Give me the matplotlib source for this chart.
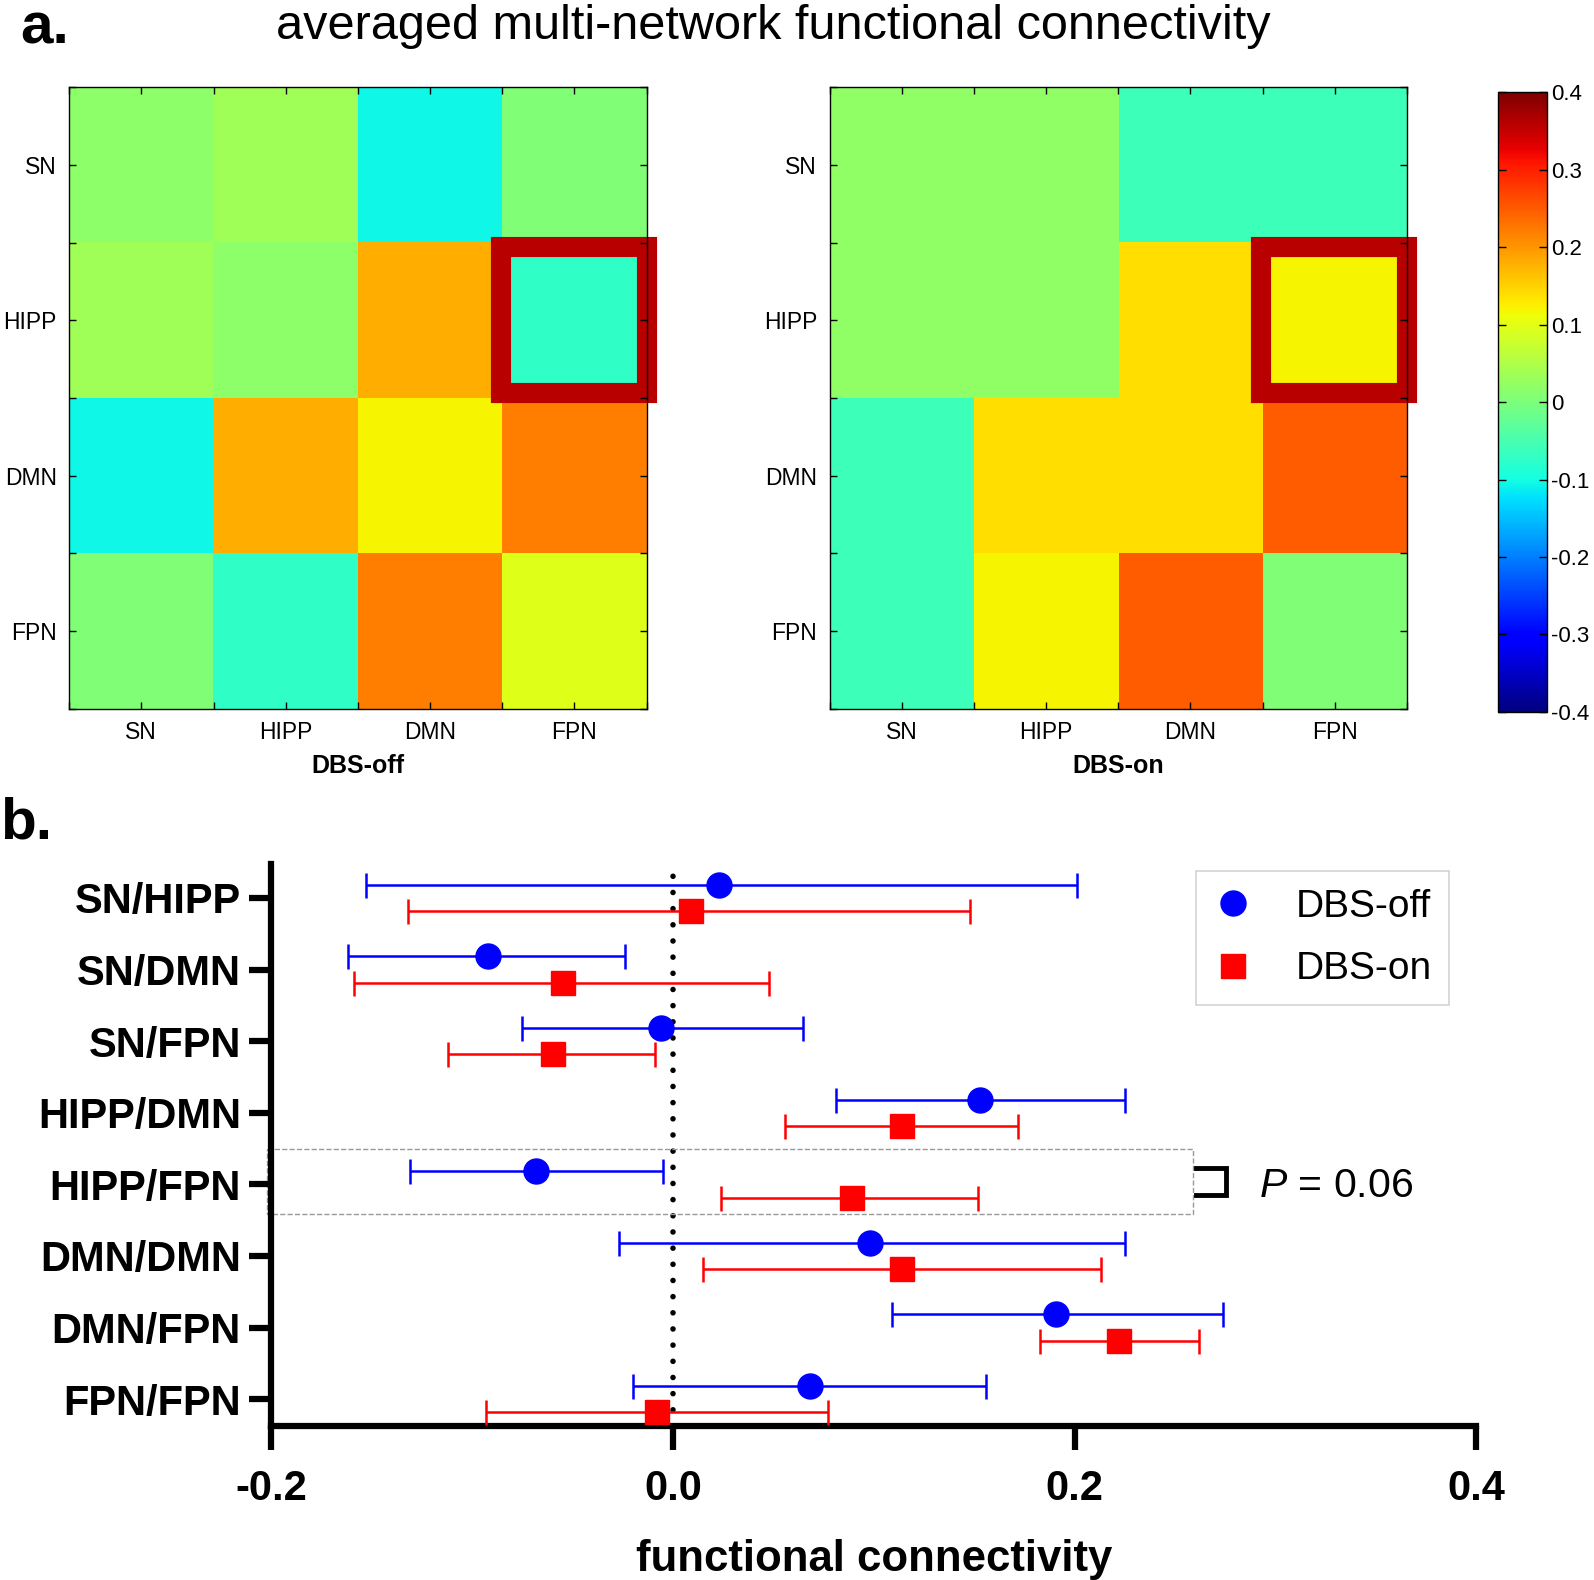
import matplotlib
matplotlib.use("Agg")
import matplotlib.pyplot as plt
from matplotlib.patches import Rectangle
from matplotlib.lines import Line2D
import numpy as np

plt.rcParams["font.family"] = ["Liberation Sans", "DejaVu Sans"]
plt.rcParams["mathtext.fontset"] = "custom"
plt.rcParams["mathtext.it"] = "Liberation Sans:italic"
plt.rcParams["mathtext.rm"] = "Liberation Sans"

# panel a: network x network connectivity matrices
networks = ["SN", "HIPP", "DMN", "FPN"]
fc_off = np.array([[0.016, 0.036, -0.105, 0.004],
                   [0.036, 0.016, 0.180, -0.075],
                   [-0.105, 0.180, 0.120, 0.220],
                   [0.004, -0.075, 0.220, 0.096]])
fc_on = np.array([[0.020, 0.020, -0.060, -0.060],
                  [0.020, 0.020, 0.140, 0.120],
                  [-0.060, 0.140, 0.140, 0.248],
                  [-0.060, 0.120, 0.248, 0.004]])
highlight = (1, 3)  # HIPP row, FPN column
cbar_ticks = [-0.4, -0.3, -0.2, -0.1, 0, 0.1, 0.2, 0.3, 0.4]
cbar_labels = ["-0.4", "-0.3", "-0.2", "-0.1", "0", "0.1", "0.2", "0.3", "0.4"]

# panel b: mean and error bar ends per network pair
pairs = ["SN/HIPP", "SN/DMN", "SN/FPN", "HIPP/DMN", "HIPP/FPN",
         "DMN/DMN", "DMN/FPN", "FPN/FPN"]
off_mean = np.array([0.023, -0.092, -0.006, 0.153, -0.068, 0.098, 0.191, 0.068])
off_lo = np.array([-0.153, -0.162, -0.075, 0.081, -0.131, -0.027, 0.109, -0.020])
off_hi = np.array([0.201, -0.024, 0.065, 0.225, -0.005, 0.225, 0.274, 0.156])
on_mean = np.array([0.009, -0.055, -0.060, 0.114, 0.089, 0.114, 0.222, -0.008])
on_lo = np.array([-0.132, -0.159, -0.112, 0.056, 0.024, 0.015, 0.183, -0.093])
on_hi = np.array([0.148, 0.048, -0.009, 0.172, 0.152, 0.213, 0.262, 0.077])
sig_pair = 4
p_text = "0.06"

fig = plt.figure(figsize=(15.94, 15.80), dpi=100)

fig.text(0.013, 0.982, "a.", fontsize=42, fontweight="bold", va="center", ha="left")
fig.text(0.485, 0.983, "averaged multi-network functional connectivity",
         fontsize=35, va="center", ha="center")
fig.text(0.0, 0.479, "b.", fontsize=42, fontweight="bold", va="center", ha="left")

ax1 = fig.add_axes([0.0434, 0.5515, 0.3622, 0.3932])
ax2 = fig.add_axes([0.5204, 0.5515, 0.3622, 0.3932])
cax = fig.add_axes([0.940, 0.5495, 0.0306, 0.392])

for ax, mat, name in [(ax1, fc_off, "DBS-off"), (ax2, fc_on, "DBS-on")]:
    im = ax.imshow(mat, cmap="jet", vmin=-0.4, vmax=0.4, aspect="auto",
                   interpolation="nearest")
    ax.set_xticks(range(4))
    ax.set_yticks(range(4))
    ax.set_xticklabels(networks)
    ax.set_yticklabels(networks)
    ax.set_xticks(np.arange(-0.5, 4, 1), minor=True)
    ax.set_yticks(np.arange(-0.5, 4, 1), minor=True)
    ax.tick_params(which="both", direction="in", top=True, right=True,
                   length=5, width=1, labelsize=16.5, pad=9)
    ax.set_xlabel(name, fontsize=18, fontweight="bold", labelpad=7)
    for s in ax.spines.values():
        s.set_linewidth(1)
    r, c = highlight
    ax.add_patch(Rectangle((c - 0.51, r - 0.47), 1.01, 0.94, fill=False,
                           edgecolor="#b80000", lw=14.5, clip_on=False,
                           joinstyle="miter"))

cb = fig.colorbar(im, cax=cax, ticks=cbar_ticks)
cb.ax.set_yticklabels(cbar_labels)
cb.ax.tick_params(direction="in", left=True, right=True, length=6, width=1,
                  labelsize=16, pad=3)
cb.outline.set_linewidth(1)

# panel b
ax3 = fig.add_axes([0.1703, 0.0972, 0.7557, 0.3558])
y = np.arange(len(pairs))
off_y = y - 0.185
on_y = y + 0.185

ax3.axvline(0, color="black", lw=4, ls=(0, (0.01, 2.9)),
            dash_capstyle="round", zorder=1)
ax3.errorbar(off_mean, off_y, xerr=[off_mean - off_lo, off_hi - off_mean],
             fmt="o", color="blue", ms=18, elinewidth=1.8, capsize=9,
             capthick=1.8, zorder=3)
ax3.errorbar(on_mean, on_y, xerr=[on_mean - on_lo, on_hi - on_mean],
             fmt="s", color="red", ms=17.5, elinewidth=1.8, capsize=9,
             capthick=1.8, zorder=3)

ax3.set_xlim(-0.2, 0.4)
ax3.set_ylim(len(pairs) - 1 + 0.38, -0.47)
ax3.set_yticks(y)
ax3.set_yticklabels(pairs)
ax3.set_xticks([-0.2, 0.0, 0.2, 0.4])
ax3.set_xticklabels(["-0.2", "0.0", "0.2", "0.4"])
for lab in ax3.get_yticklabels() + ax3.get_xticklabels():
    lab.set_fontweight("bold")
ax3.tick_params(axis="y", length=16, width=4.5, labelsize=30, pad=6)
ax3.tick_params(axis="x", length=17, width=4.5, labelsize=30, pad=14)
ax3.spines["top"].set_visible(False)
ax3.spines["right"].set_visible(False)
ax3.spines["left"].set_linewidth(4.5)
ax3.spines["bottom"].set_linewidth(4.5)
ax3.set_xlabel("functional connectivity", fontsize=31.5, fontweight="bold",
               labelpad=21)

# highlighted pair with bracket and p value
ax3.add_patch(Rectangle((-0.202, sig_pair - 0.49), 0.461, 0.91, fill=False,
                        ls="--", edgecolor="#999999", lw=1, clip_on=False))
bx = 0.2606
ax3.plot([bx, bx + 0.0147, bx + 0.0147, bx],
         [off_y[sig_pair] - 0.05, off_y[sig_pair] - 0.05,
          on_y[sig_pair] - 0.03, on_y[sig_pair] - 0.03],
         color="black", lw=3.5, clip_on=False, solid_joinstyle="miter")
ax3.text(0.292, sig_pair + 0.02, r"$\mathit{P}$ = " + p_text, fontsize=29.5,
         va="center", ha="left")

handles = [Line2D([], [], ls="none", marker="o", color="blue", ms=18),
           Line2D([], [], ls="none", marker="s", color="red", ms=17.5)]
leg = ax3.legend(handles, ["DBS-off", "DBS-on"], loc="upper left",
                 bbox_to_anchor=(0.7506, 0.4485), bbox_transform=fig.transFigure,
                 borderaxespad=0, fontsize=28, frameon=True, fancybox=False,
                 handlelength=1.0, handletextpad=1.1, labelspacing=0.68,
                 borderpad=0.45)
leg.get_frame().set_edgecolor("#c8c8c8")
leg.get_frame().set_linewidth(1.2)

fig.savefig("out.png", dpi=100)
